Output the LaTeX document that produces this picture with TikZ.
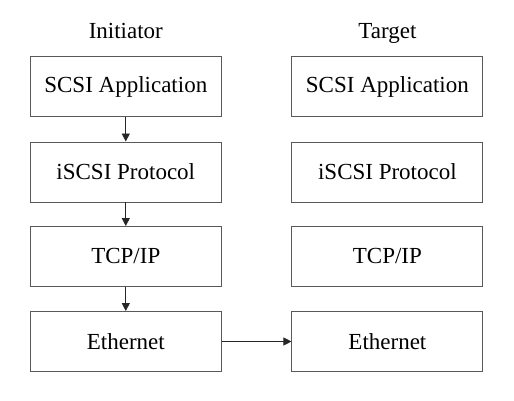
\documentclass[tikz,border=0pt]{standalone}
\usepackage{fontspec}
\setmainfont{Liberation Serif}
\usetikzlibrary{arrows.meta}
\begin{document}
\begin{tikzpicture}[x=1pt,y=1pt,
  layer/.style={draw=black!65, line width=0.9pt, minimum width=191pt, minimum height=60pt, inner sep=0pt, font=\fontsize{23}{26}\selectfont},
  title/.style={font=\fontsize{23}{26}\selectfont, anchor=base, inner sep=0pt},
  conn/.style={draw=black!85, line width=0.9pt, -{Triangle[length=8pt,width=8pt]}}]
\useasboundingbox (0,0) rectangle (514,401);
\node[title] (ti) at (125.8,362.7) {Initiator};
\node[title] (tt) at (387.4,362.7) {Target};
\node[layer] (la) at (125.8,314.5) {SCSI Application};
\node[layer] (lb) at (125.8,229) {iSCSI Protocol};
\node[layer] (lc) at (125.8,144.5) {TCP/IP};
\node[layer] (ld) at (125.8,59.5) {Ethernet};
\node[layer] (ra) at (387.4,314.5) {SCSI Application};
\node[layer] (rb) at (387.4,229) {iSCSI Protocol};
\node[layer] (rc) at (387.4,144.5) {TCP/IP};
\node[layer] (rd) at (387.4,59.5) {Ethernet};
\draw[conn] (la) -- (lb);
\draw[conn] (lb) -- (lc);
\draw[conn] (lc) -- (ld);
\draw[conn] (ld) -- (rd);
\end{tikzpicture}
\end{document}
